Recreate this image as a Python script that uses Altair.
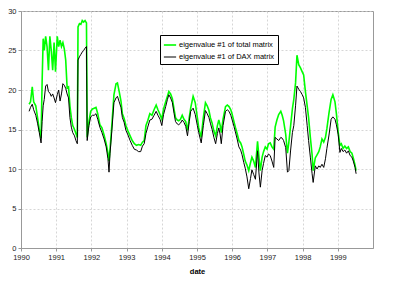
import altair as alt
import pandas as pd

# decimal-year positions and the two eigenvalue series
t = [1990.23, 1990.27, 1990.32, 1990.36, 1990.42, 1990.47, 1990.52, 1990.57, 1990.60, 1990.63,
     1990.66, 1990.70, 1990.74, 1990.78, 1990.82, 1990.86, 1990.90, 1990.94, 1990.98, 1991.03,
     1991.07, 1991.11, 1991.15, 1991.19, 1991.23, 1991.27, 1991.31, 1991.35, 1991.39, 1991.43,
     1991.47, 1991.52, 1991.56, 1991.60, 1991.62, 1991.66, 1991.70, 1991.74, 1991.78, 1991.82,
     1991.86, 1991.88, 1991.93, 1991.98, 1992.03, 1992.08, 1992.13, 1992.18, 1992.24, 1992.30,
     1992.36, 1992.42, 1992.47, 1992.50, 1992.53, 1992.58, 1992.64, 1992.70, 1992.74, 1992.79,
     1992.84, 1992.88, 1992.93, 1992.98, 1993.04, 1993.10, 1993.16, 1993.22, 1993.28, 1993.34,
     1993.40, 1993.45, 1993.50, 1993.55, 1993.60, 1993.66, 1993.72, 1993.78, 1993.84, 1993.89,
     1993.95, 1994.00, 1994.05, 1994.11, 1994.16, 1994.20, 1994.25, 1994.30, 1994.35, 1994.39,
     1994.44, 1994.48, 1994.53, 1994.58, 1994.63, 1994.68, 1994.73, 1994.78, 1994.82, 1994.89,
     1994.95, 1995.01, 1995.05, 1995.12, 1995.18, 1995.24, 1995.29, 1995.34, 1995.38, 1995.43,
     1995.48, 1995.53, 1995.58, 1995.62, 1995.66, 1995.69, 1995.74, 1995.81, 1995.86, 1995.91,
     1995.96, 1996.00, 1996.05, 1996.09, 1996.14, 1996.19, 1996.24, 1996.28, 1996.33, 1996.37,
     1996.42, 1996.47, 1996.52, 1996.56, 1996.61, 1996.66, 1996.72, 1996.76, 1996.80, 1996.85,
     1996.89, 1996.94, 1996.99, 1997.03, 1997.08, 1997.13, 1997.18, 1997.22, 1997.27, 1997.32,
     1997.38, 1997.42, 1997.46, 1997.52, 1997.57, 1997.61, 1997.66, 1997.71, 1997.75, 1997.80,
     1997.84, 1997.89, 1997.94, 1997.99, 1998.03, 1998.08, 1998.13, 1998.17, 1998.22, 1998.27,
     1998.30, 1998.36, 1998.41, 1998.46, 1998.50, 1998.55, 1998.60, 1998.65, 1998.69, 1998.75,
     1998.81, 1998.86, 1998.92, 1998.96, 1999.01, 1999.06, 1999.10, 1999.15, 1999.20, 1999.25,
     1999.30, 1999.35, 1999.40, 1999.44, 1999.49, 1999.52]

total = [18.2, 18.5, 20.4, 18.5, 18.0, 16.5, 15.0, 13.9, 21.0, 26.5,
         25.0, 26.8, 25.5, 22.5, 26.8, 25.0, 22.5, 26.0, 22.3, 26.8,
         25.5, 26.3, 25.5, 26.0, 25.2, 23.8, 20.3, 20.4, 18.0, 16.5,
         15.5, 15.0, 14.5, 14.0, 28.0, 28.4, 28.3, 28.8, 28.6, 28.8,
         28.5, 14.0, 16.0, 17.3, 17.6, 17.7, 17.8, 17.0, 15.6, 15.2,
         14.3, 13.2, 12.0, 11.0, 12.5, 15.5, 19.4, 20.8, 20.9, 19.8,
         18.6, 17.0, 16.4, 15.5, 14.8, 14.2, 13.6, 13.2, 13.0, 13.1,
         13.0, 13.4, 13.6, 15.5, 16.1, 17.0, 16.8, 17.5, 18.1, 17.5,
         16.9, 16.3, 17.6, 18.5, 19.2, 19.8, 19.5, 18.9, 17.5, 16.5,
         16.2, 16.1, 16.3, 16.8, 16.3, 16.0, 14.9, 16.5, 17.7, 19.2,
         18.4, 16.5, 15.2, 14.0, 16.5, 18.4, 18.0, 17.4, 16.5, 15.8,
         14.8, 14.2, 15.5, 16.2, 15.5, 14.6, 16.3, 17.9, 18.1, 17.9,
         17.5, 16.9, 16.0, 15.3, 14.5, 13.6, 13.3, 12.8, 11.8, 11.0,
         10.5, 9.8, 10.8, 11.5, 11.0, 10.2, 13.5, 11.5, 9.8, 11.5,
         12.2, 12.8, 12.5, 13.2, 13.3, 12.8, 12.5, 15.3, 16.2, 16.9,
         17.3, 16.8, 16.1, 14.4, 12.0, 13.4, 15.5, 17.6, 18.8, 20.9,
         24.4, 23.2, 22.8, 22.3, 21.9, 19.8, 18.0, 16.5, 14.0, 11.8,
         9.8, 11.4, 11.8, 12.2, 12.8, 13.8, 13.4, 14.0, 15.1, 17.1,
         18.8, 19.4, 18.5, 17.0, 14.7, 13.0, 13.2, 12.6, 12.9, 12.6,
         12.8, 12.2, 12.0, 11.4, 10.5, 9.8]

dax = [17.3, 17.8, 18.2, 17.5, 16.8, 15.8, 14.6, 13.3, 16.0, 18.0,
       18.8, 20.5, 20.7, 19.8, 19.6, 19.2, 19.5, 19.0, 18.4, 19.4,
       20.0, 18.6, 19.5, 20.8, 20.6, 20.2, 19.5, 19.0, 16.5, 15.3,
       14.6, 14.2, 13.6, 13.2, 23.8, 24.2, 24.5, 24.8, 25.0, 25.3,
       25.5, 13.6, 15.5, 16.6, 16.8, 16.8, 17.0, 16.3, 15.3, 14.6,
       13.8, 12.8, 11.3, 9.6, 12.0, 14.8, 18.4, 19.0, 19.2, 18.5,
       17.8, 16.5, 15.9, 14.9, 14.3, 13.6, 13.0, 12.5, 12.4, 12.2,
       12.2, 12.9, 13.2, 14.5, 15.3, 16.2, 16.3, 16.8, 17.3, 16.8,
       16.3, 15.5, 16.9, 17.9, 18.8, 19.4, 19.0, 18.4, 17.0, 16.0,
       15.7, 15.6, 15.8, 16.2, 15.9, 15.4, 14.2, 16.0, 17.3, 17.7,
       16.9, 15.5, 14.6, 13.3, 15.5, 17.4, 17.0, 16.5, 15.8, 15.0,
       14.0, 13.2, 14.5, 15.2, 14.3, 13.2, 15.5, 17.3, 17.5, 17.3,
       16.8, 16.2, 15.4, 14.7, 13.8, 12.8, 12.4, 11.8, 10.8, 10.1,
       9.0, 7.5, 8.8, 9.9, 9.3, 8.7, 12.3, 9.5, 7.7, 9.8,
       10.7, 11.7, 11.5, 11.9, 11.7, 11.0, 10.2, 14.0, 13.8, 13.6,
       14.0, 13.9, 13.6, 12.7, 9.6, 9.8, 12.4, 14.6, 15.5, 18.0,
       20.5, 20.1, 19.8, 19.4, 19.0, 17.8, 15.5, 13.6, 11.5, 9.4,
       8.3, 10.4, 10.0, 10.4, 10.2, 10.6, 10.2, 11.3, 12.6, 14.3,
       16.3, 16.6, 16.3, 15.6, 14.4, 12.1, 12.6, 12.2, 12.4, 12.0,
       12.3, 11.7, 11.5, 11.0, 10.2, 9.4]

series_names = ["eigenvalue #1 of total matrix", "eigenvalue #1 of DAX matrix"]
series_colors = ["#00ff00", "#000000"]
series_widths = [1.6, 1.0]
x_ticks = [1990, 1991, 1992, 1993, 1994, 1995, 1996, 1997, 1998, 1999]
y_ticks = [0, 5, 10, 15, 20, 25, 30]

df = pd.concat([
    pd.DataFrame({"date": t, "value": total, "series": series_names[0], "order": 0}),
    pd.DataFrame({"date": t, "value": dax, "series": series_names[1], "order": 1}),
], ignore_index=True)

FONT = "Liberation Sans"

shadow = alt.Chart(pd.DataFrame({"a": [0]})).mark_rect(color="#333333").encode(
    x=alt.value(141), x2=alt.value(255), y=alt.value(26), y2=alt.value(48)
)

lines = alt.Chart(df).mark_line(interpolate="linear").encode(
    x=alt.X("date:Q", title="date",
            scale=alt.Scale(domain=[1990, 2000], nice=False, zero=False),
            axis=alt.Axis(values=x_ticks, format="d", labelFlush=False)),
    y=alt.Y("value:Q", title=None,
            scale=alt.Scale(domain=[0, 30], nice=False),
            axis=alt.Axis(values=y_ticks)),
    color=alt.Color("series:N", title=None,
                    scale=alt.Scale(domain=series_names, range=series_colors),
                    legend=alt.Legend(orient="none", legendX=139, legendY=24,
                                      symbolType="stroke", symbolSize=150,
                                      symbolStrokeWidth=1.5, labelFontSize=7.5,
                                      labelFont=FONT, labelColor="#000000",
                                      labelLimit=300, rowPadding=1, padding=3,
                                      fillColor="#ffffff", strokeColor="#000000",
                                      labelOffset=2)),
    strokeWidth=alt.StrokeWidth("series:N",
                                scale=alt.Scale(domain=series_names, range=series_widths),
                                legend=None),
    order=alt.Order("order:Q"),
)

chart = alt.layer(shadow, lines).properties(
    width=352, height=237,
    autosize=alt.AutoSizeParams(type="none"),
    padding={"left": 13, "top": 3, "right": 12, "bottom": 30},
).configure_view(
    stroke="#999999", strokeWidth=1
).configure_axis(
    domainColor="#999999", tickColor="#999999", tickSize=3,
    gridColor="#cccccc", gridDash=[2, 2], gridWidth=0.8,
    labelFont=FONT, labelFontSize=7.5, labelColor="#222222", labelPadding=2,
    titleFont=FONT, titleFontSize=7.5, titleFontWeight="bold", titleColor="#000000",
    titlePadding=7,
)

chart.save("out.html", embed_options={"renderer": "svg", "actions": False})
